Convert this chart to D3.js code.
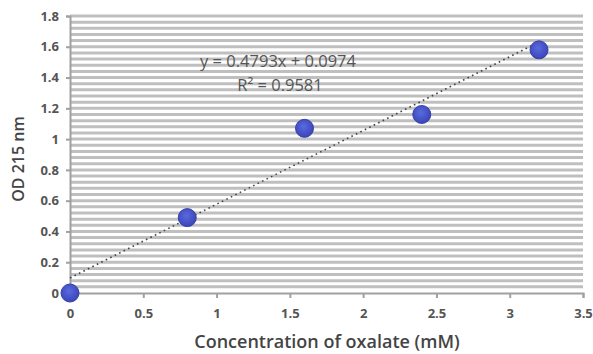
<!DOCTYPE html>
<html><head><meta charset="utf-8">
<script src="https://cdn.jsdelivr.net/npm/d3@7"></script>
<style>body{margin:0;background:#fff;} svg{display:block;}</style>
</head><body>
<script>
const concentrations = [0, 0.8, 1.6, 2.4, 3.2];
const odValues = [0, 0.49, 1.07, 1.16, 1.58];
const xTicks = [0, 0.5, 1, 1.5, 2, 2.5, 3, 3.5];
const yTicks = [0, 0.2, 0.4, 0.6, 0.8, 1, 1.2, 1.4, 1.6, 1.8];
const slope = 0.4793, intercept = 0.0974;
const equationText = "y = 0.4793x + 0.0974";
const r2Text = "R² = 0.9581";

const W = 593, H = 354;
const svg = d3.select("body").append("svg").attr("width", W).attr("height", H);
const x = d3.scaleLinear().domain([0, 3.5]).range([70, 583]);
const y = d3.scaleLinear().domain([0, 1.8]).range([293, 16]);

// dense minor gridlines every 0.04
const grid = d3.range(0, 46).map(i => i * 0.04);
svg.append("g").selectAll("line").data(grid.slice(1)).join("line")
  .attr("x1", x(0)).attr("x2", x(3.5))
  .attr("y1", d => y(d)).attr("y2", d => y(d))
  .attr("stroke", "#bfbfbf").attr("stroke-width", 3);

const font = "'Open Sans', 'Liberation Sans', sans-serif";
// axes
const yAxis = d3.axisLeft(y).tickValues(yTicks).tickFormat(d3.format("~g")).tickSize(4).tickPadding(7);
const gy = svg.append("g").attr("transform", `translate(${x(0)},0)`).call(yAxis);
const xAxis = d3.axisBottom(x).tickValues(xTicks).tickFormat(d3.format("~g")).tickSize(5).tickPadding(11);
const gx = svg.append("g").attr("transform", `translate(0,${y(0)})`).call(xAxis);
[gx, gy].forEach(g => {
  g.selectAll("path.domain").attr("stroke", "#a0a0a0").attr("stroke-width", 2);
  g.selectAll(".tick line").attr("stroke", "#a0a0a0").attr("stroke-width", 2);
  g.selectAll("text").attr("fill", "#555").style("font-family", font).style("font-size", "13px").style("font-weight", "bold");
});

// trendline
svg.append("line")
  .attr("x1", x(0)).attr("y1", y(intercept))
  .attr("x2", x(3.2)).attr("y2", y(slope * 3.2 + intercept))
  .attr("stroke", "#444").attr("stroke-width", 1.6).attr("stroke-dasharray", "1.6,3.4");

// markers
const defs = svg.append("defs");
const grad = defs.append("radialGradient").attr("id", "mk").attr("cx", "45%").attr("cy", "40%").attr("r", "60%");
grad.append("stop").attr("offset", "0%").attr("stop-color", "#5b6ae0");
grad.append("stop").attr("offset", "100%").attr("stop-color", "#3a45b8");
svg.append("g").selectAll("circle").data(concentrations).join("circle")
  .attr("cx", (d) => x(d)).attr("cy", (d, i) => y(odValues[i]))
  .attr("r", 9).attr("fill", "url(#mk)").attr("stroke", "#3340a8").attr("stroke-width", 1);

// equation
svg.append("text").attr("x", 278).attr("y", 67).attr("text-anchor", "middle")
  .attr("fill", "#555").style("font-family", font).style("font-size", "16.5px").text(equationText);
svg.append("text").attr("x", 280).attr("y", 91).attr("text-anchor", "middle")
  .attr("fill", "#555").style("font-family", font).style("font-size", "16.5px").text(r2Text);

// axis titles
svg.append("text").attr("x", 327).attr("y", 348).attr("text-anchor", "middle")
  .attr("fill", "#444").style("font-family", font).style("font-size", "18px").style("font-weight", "600")
  .text("Concentration of oxalate (mM)");
svg.append("text").attr("transform", `translate(24,${159}) rotate(-90)`).attr("text-anchor", "middle")
  .attr("fill", "#444").style("font-family", font).style("font-size", "16px").style("font-weight", "600")
  .text("OD 215 nm");
</script>
</body></html>
